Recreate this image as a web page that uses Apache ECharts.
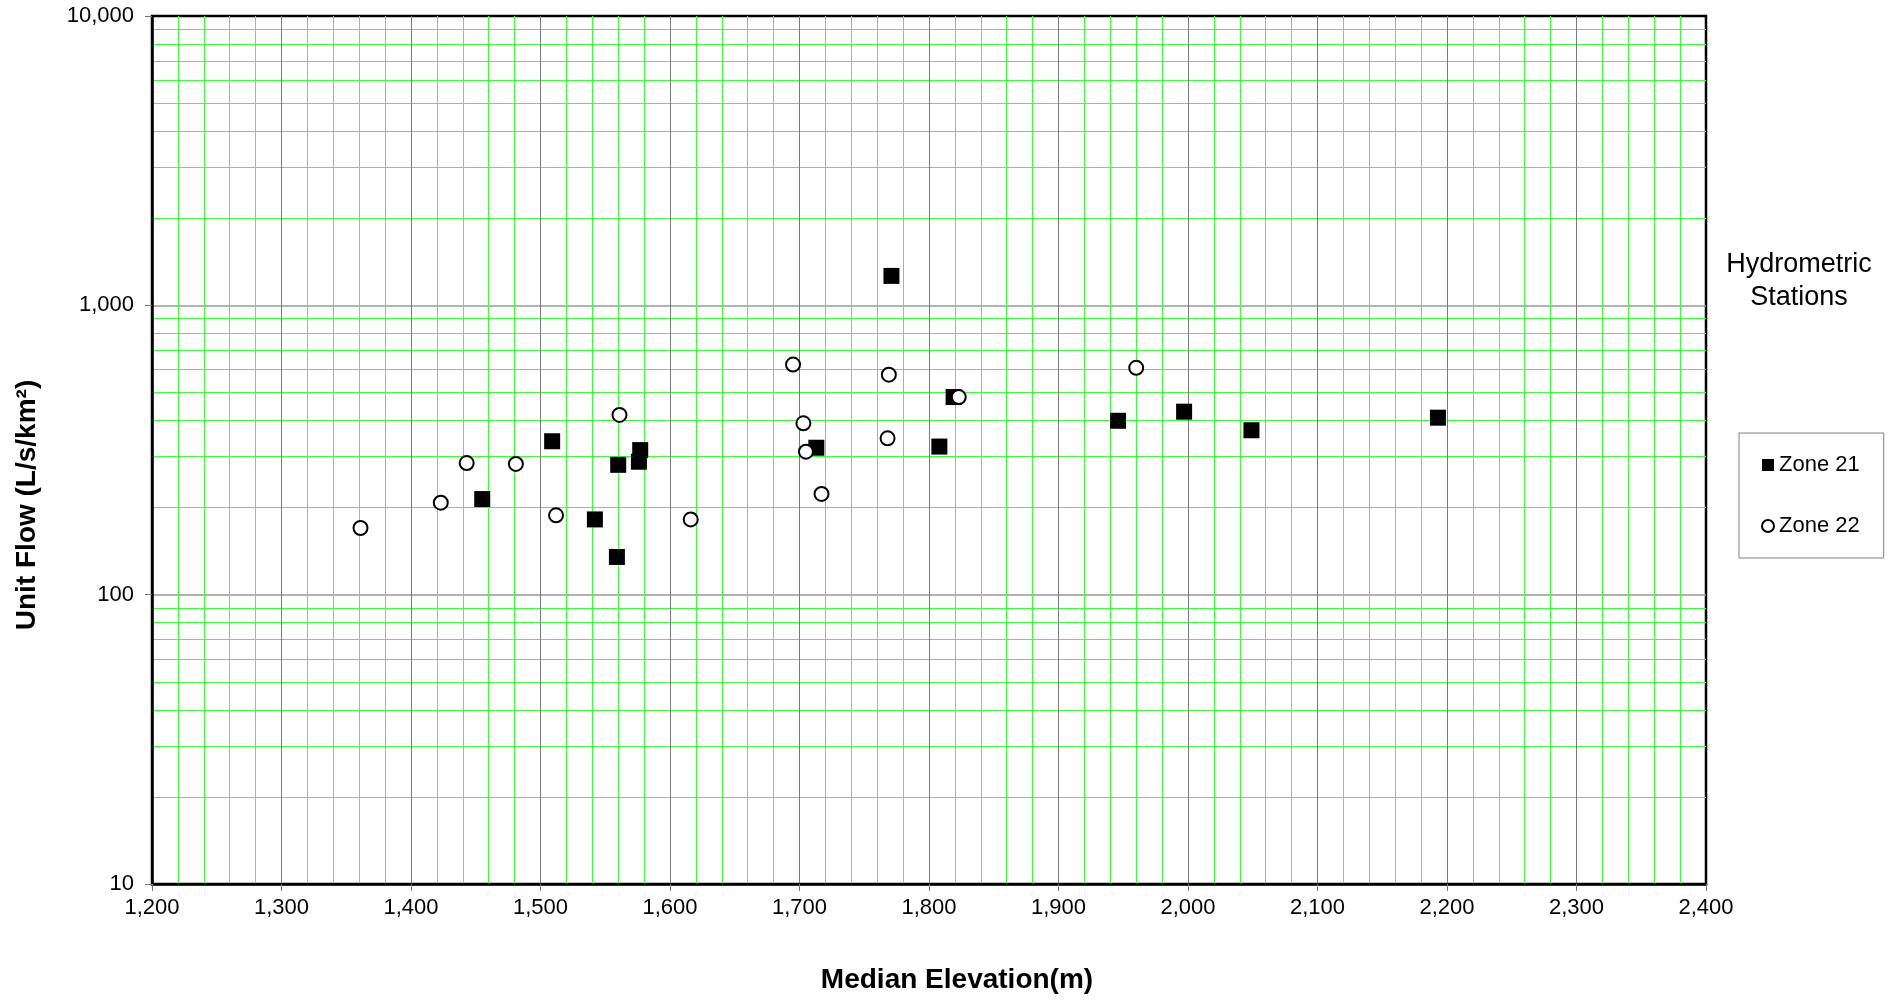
<!DOCTYPE html>
<html>
<head>
<meta charset="utf-8">
<title>Unit Flow vs Median Elevation</title>
<script src="https://cdn.jsdelivr.net/npm/echarts@6/dist/echarts.min.js"></script>
<style>
  html, body { margin: 0; padding: 0; background: #fff; }
  #chart { width: 1902px; height: 1000px; }
</style>
</head>
<body>
<div id="chart"></div>
<script>
// Hydrometric stations: [median elevation (m), unit flow (L/s/km²)]
const zone21 = [
  [1455, 214], [1509, 339], [1542, 182], [1560, 281], [1559, 135],
  [1577, 316], [1576, 288], [1771, 1264], [1819, 482], [1713, 322],
  [1808, 325], [1946, 399], [1997, 429], [2049, 370], [2193, 409]
];
const zone22 = [
  [1361, 170], [1423, 208], [1443, 285], [1481, 283], [1512, 188],
  [1561, 418], [1616, 182], [1695, 624], [1769, 576], [1823, 482],
  [1960, 608], [1703, 391], [1705, 312], [1768, 347], [1717, 223]
];
const seriesNames = ['Zone 21', 'Zone 22'];
const xRange = [1200, 2400];
const yRange = [10, 10000];

const FONT = '"Liberation Sans", Arial, sans-serif';
const fmt = v => Number(v).toLocaleString('en-US');

const chart = echarts.init(document.getElementById('chart'), null, { renderer: 'canvas' });

chart.setOption({
  backgroundColor: '#ffffff',
  animation: false,
  textStyle: { fontFamily: FONT },
  grid: {
    left: 152, right: 196, top: 16, bottom: 116,
    show: true, borderColor: '#000', borderWidth: 2.5, backgroundColor: 'transparent'
  },
  xAxis: {
    type: 'value',
    min: xRange[0], max: xRange[1], interval: 100,
    axisLine: { show: true, onZero: false, lineStyle: { color: '#000', width: 2.5 } },
    axisTick: { show: true, length: 7, lineStyle: { color: '#777', width: 1 } },
    axisLabel: { fontSize: 22, color: '#000', margin: 13, fontFamily: FONT, formatter: fmt },
    splitLine: { show: true, showMinLine: false, showMaxLine: false, lineStyle: { color: '#7a7a7a', width: 1 } },
    minorTick: { show: false, splitNumber: 5 },
    minorSplitLine: { show: true, lineStyle: { color: '#3cff3c', width: 1 } }
  },
  yAxis: {
    type: 'log', logBase: 10,
    min: yRange[0], max: yRange[1],
    axisLine: { show: true, onZero: false, lineStyle: { color: '#000', width: 2.5 } },
    axisTick: { show: true, length: 7, lineStyle: { color: '#777', width: 1 } },
    axisLabel: { fontSize: 22, color: '#000', margin: 18, fontFamily: FONT, formatter: fmt },
    splitLine: { show: true, showMinLine: false, showMaxLine: false, lineStyle: { color: '#999', width: 1.5 } },
    minorTick: { show: false, splitNumber: 9 },
    minorSplitLine: { show: true, lineStyle: { color: '#3cff3c', width: 1 } }
  },
  legend: {
    orient: 'vertical',
    left: 1739, top: 433,
    padding: [21, 24, 21, 22],
    borderColor: '#808080', borderWidth: 1,
    itemWidth: 12, itemHeight: 12, itemGap: 39,
    textStyle: { fontSize: 22, color: '#000', fontFamily: FONT },
    data: [
      { name: seriesNames[0], icon: 'rect', itemStyle: { color: '#000', opacity: 1 } },
      { name: seriesNames[1], icon: 'circle', itemStyle: { color: '#fff', borderColor: '#000', borderWidth: 2, opacity: 1 } }
    ]
  },
  graphic: [
    {
      type: 'text', x: 957, y: 980,
      style: {
        text: 'Median Elevation(m)', x: 0, y: 0,
        align: 'center', verticalAlign: 'middle',
        font: 'bold 28px ' + FONT, fill: '#000'
      }
    },
    {
      type: 'text', x: 27, y: 505, rotation: Math.PI / 2,
      style: {
        text: 'Unit Flow (L/s/km²)', x: 0, y: 0,
        align: 'center', verticalAlign: 'middle',
        font: 'bold 28px ' + FONT, fill: '#000'
      }
    },
    {
      type: 'text', x: 1799, y: 281,
      style: {
        text: 'Hydrometric\nStations', x: 0, y: 0,
        align: 'center', verticalAlign: 'middle', lineHeight: 33,
        font: '27px ' + FONT, fill: '#000'
      }
    }
  ],
  series: [
    {
      name: seriesNames[0], type: 'scatter', data: zone21,
      symbol: 'rect', symbolSize: 16,
      itemStyle: { color: '#000', opacity: 1 }
    },
    {
      name: seriesNames[1], type: 'scatter', data: zone22,
      symbol: 'circle', symbolSize: 14,
      itemStyle: { color: '#fff', borderColor: '#000', borderWidth: 2, opacity: 1 }
    }
  ]
});
</script>
</body>
</html>
